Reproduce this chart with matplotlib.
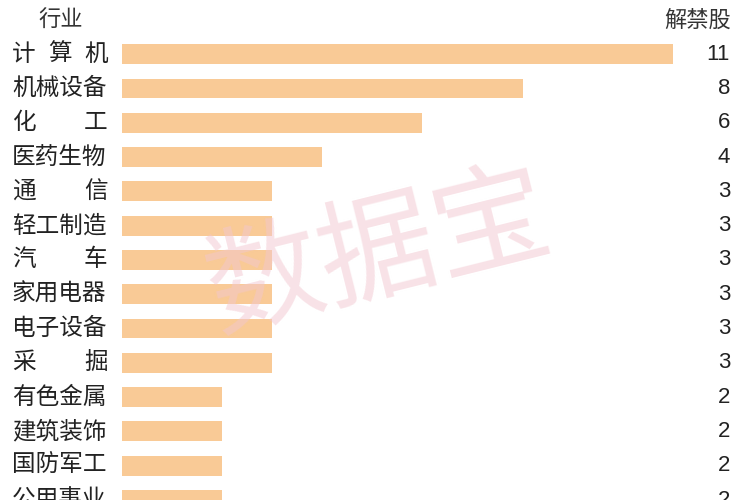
import matplotlib
matplotlib.use("Agg")
import matplotlib.pyplot as plt
from matplotlib.transforms import blended_transform_factory

plt.rcParams['font.family'] = ['Noto Sans CJK SC', 'DejaVu Sans']

# data
industries = ['计算机', '机械设备', '化工', '医药生物', '通信', '轻工制造', '汽车',
              '家用电器', '电子设备', '采掘', '有色金属', '建筑装饰', '国防军工', '公用事业']
counts = [11, 8, 6, 4, 3, 3, 3, 3, 3, 3, 2, 2, 2, 2]

fig = plt.figure(figsize=(7.5, 5), dpi=100)
ax = fig.add_axes([122 / 750, 0, 626 / 750, 1])
ax.set_xlim(0, 12.5)
ax.set_ylim(13.0, -1.58)
ax.axis('off')

rows = list(range(len(industries)))
ax.barh(rows, counts, height=0.58, color='#F9CA96', edgecolor='none')

tr = blended_transform_factory(fig.transFigure, ax.transData)
text_color = '#222222'

# category labels, spread over a 4-character width like the original
left, width, char_w = 12 / 750, 96 / 750, 24 / 750
for r, name in zip(rows, industries):
    n = len(name)
    if n == 4:
        ax.text(left, r, name, transform=tr, ha='left', va='center',
                fontsize=17, color=text_color, fontweight='medium')
    else:
        step = (width - char_w) / (n - 1)
        for i, ch in enumerate(name):
            ax.text(left + i * step, r, ch, transform=tr, ha='left', va='center',
                    fontsize=17, color=text_color, fontweight='medium')
    ax.text(730 / 750, r, str(counts[r]), transform=tr, ha='right', va='center',
            fontsize=16, color=text_color, family=['Liberation Sans', 'DejaVu Sans'])

# headers
ax.text(38 / 750, -0.98, '行业', transform=tr, ha='left', va='center',
        fontsize=16, color='#333333')
ax.text(731 / 750, -0.98, '解禁股', transform=tr, ha='right', va='center',
        fontsize=16, color='#333333')

# watermark
fig.text(0.505, 0.49, '数据宝', ha='center', va='center', rotation=14,
         fontsize=84, color='#F2C6CF', alpha=0.5, zorder=5)

fig.savefig('out.png', dpi=100, facecolor='white')
